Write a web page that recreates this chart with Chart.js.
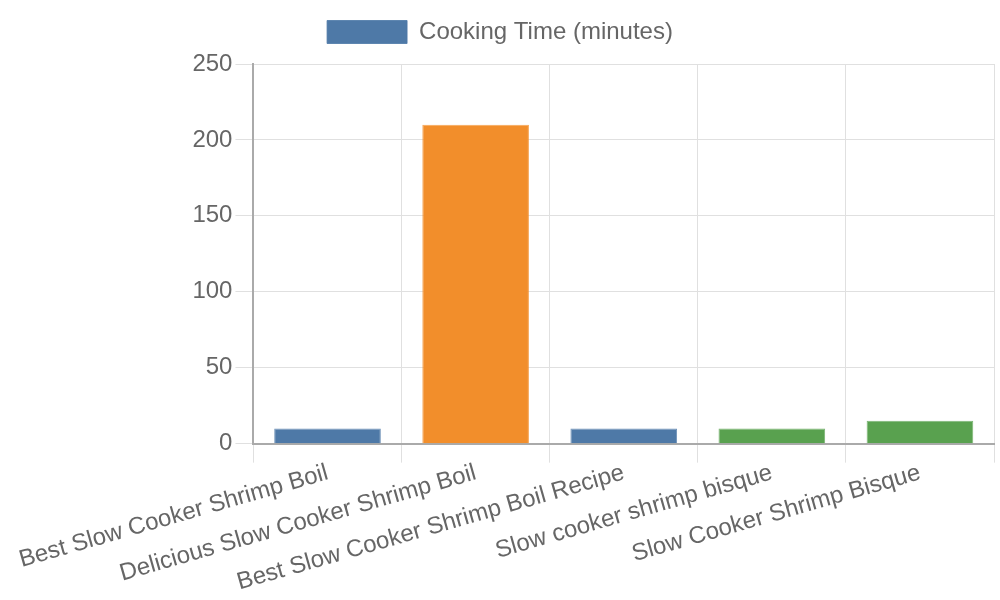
<!DOCTYPE html>
<html>
<head>
<meta charset="utf-8">
<script src="https://cdn.jsdelivr.net/npm/chart.js@4/dist/chart.umd.min.js"></script>
<style>
html,body{margin:0;padding:0;background:#fff;}
#wrap{width:1000px;height:600px;}
</style>
</head>
<body>
<div id="wrap"><canvas id="c" width="1000" height="600"></canvas></div>
<script>
const categories = [
  "Best Slow Cooker Shrimp Boil",
  "Delicious Slow Cooker Shrimp Boil",
  "Best Slow Cooker Shrimp Boil Recipe",
  "Slow cooker shrimp bisque",
  "Slow Cooker Shrimp Bisque"
];
const cookingTime = [10, 210, 10, 10, 15];
const barColors = ["#4e79a7", "#f28e2b", "#4e79a7", "#59a14f", "#59a14f"];
const seriesLabel = "Cooking Time (minutes)";

Chart.defaults.font.family = "'Liberation Sans', Arial, sans-serif";
Chart.defaults.font.size = 24;
Chart.defaults.color = "#666";

const legendGap = {
  id: 'legendGap',
  beforeInit(chart) {
    const origFit = chart.legend.fit;
    chart.legend.fit = function() {
      origFit.bind(chart.legend)();
      this.height += 10;
    };
  }
};

new Chart(document.getElementById('c'), {
  type: 'bar',
  data: {
    labels: categories,
    datasets: [{
      label: seriesLabel,
      data: cookingTime,
      backgroundColor: barColors,
      borderColor: barColors.map(c => c + "cc"),
      borderWidth: 1,
      categoryPercentage: 0.8,
      barPercentage: 0.9
    }]
  },
  plugins: [legendGap],
  options: {
    responsive: false,
    animation: false,
    layout: { padding: { left: 6, right: 6, top: 10, bottom: 7 } },
    plugins: {
      legend: {
        labels: { boxWidth: 80, boxHeight: 23, font: { size: 24 }, color: "#666" }
      },
      tooltip: { enabled: false }
    },
    scales: {
      x: {
        grid: { color: "#e0e0e0", tickLength: 19 },
        border: { color: "#aaa", width: 2 },
        ticks: { minRotation: 16, maxRotation: 16, padding: -4, font: { size: 24 }, color: "#666" }
      },
      y: {
        min: 0, max: 250,
        afterFit(scale) { scale.width = 232; },
        grid: { color: "#e0e0e0", tickLength: 18 },
        border: { color: "#aaa", width: 2 },
        ticks: { stepSize: 50, font: { size: 24 }, color: "#666" }
      }
    }
  }
});
</script>
</body>
</html>
